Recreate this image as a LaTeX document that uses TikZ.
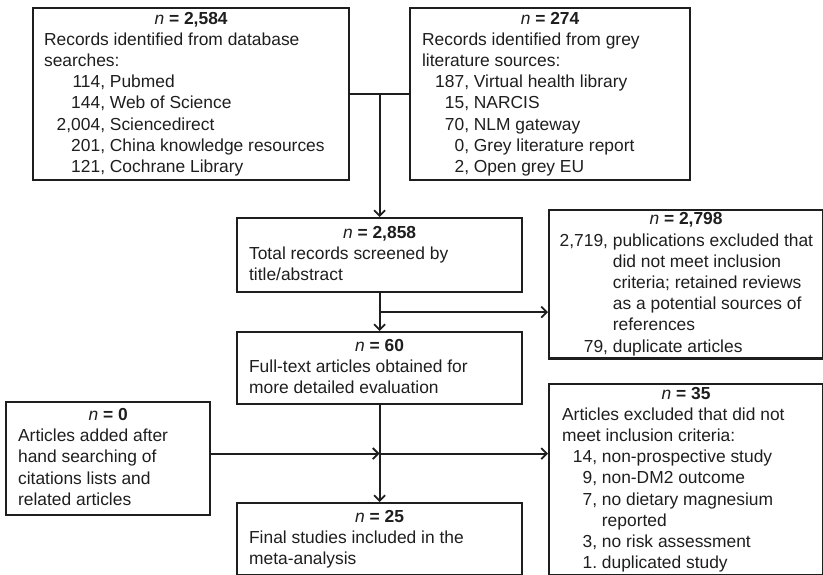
\documentclass[tikz,border=0pt]{standalone}
\usepackage{fontspec}
\setmainfont{Liberation Sans}
\usetikzlibrary{arrows.meta,calc}
\definecolor{ink}{HTML}{1E1E1E}
\newcommand{\hdr}[3]{\makebox[#1]{\textit{n} \textbf{= #2}}}
\newcommand{\itm}[3]{\makebox[#1][r]{#2}\ #3}
\begin{document}
\begin{tikzpicture}[x=1pt,y=-1pt,
  box/.style={draw=ink,line width=2.2pt,rectangle,anchor=north west,inner ysep=0pt,
    text=ink,font=\fontsize{17.4}{21.2}\selectfont},
  conn/.style={draw=ink,line width=1.8pt},
  arr/.style={conn,-{Straight Barb[length=5.5pt,width=11pt]}}]
\useasboundingbox (0,0) rectangle (823,575);
% box 1
\node[box,inner xsep=11pt,minimum width=316pt,minimum height=172pt] (b1) at (32,7)
 {\begin{tabular}{@{}l@{}}\hdr{294pt}{2,584}{}\\
 Records identified from database\\
 searches:\\
 \itm{61pt}{114,}{Pubmed}\\
 \itm{61pt}{144,}{Web of Science}\\
 \itm{61pt}{2,004,}{Sciencedirect}\\
 \itm{61pt}{201,}{China knowledge resources}\\
 \itm{61pt}{121,}{Cochrane Library}\end{tabular}};
% box 2
\node[box,inner xsep=12pt,minimum width=280pt,minimum height=172pt] (b2) at (409,7)
 {\begin{tabular}{@{}l@{}}\hdr{256pt}{274}{}\\
 Records identified from grey\\
 literature sources:\\
 \itm{47pt}{187,}{Virtual health library}\\
 \itm{47pt}{15,}{NARCIS}\\
 \itm{47pt}{70,}{NLM gateway}\\
 \itm{47pt}{0,}{Grey literature report}\\
 \itm{47pt}{2,}{Open grey EU}\end{tabular}};
% box 3
\node[box,inner xsep=12pt,minimum width=285pt,minimum height=74pt] (b3) at (236,217)
 {\begin{tabular}{@{}l@{}}\hdr{261pt}{2,858}{}\\
 Total records screened by\\
 title/abstract\end{tabular}};
% box 4
\node[box,inner xsep=9pt,minimum width=274pt,minimum height=147pt] (b4) at (548,209)
 {\begin{tabular}{@{}l@{}}\hdr{254pt}{2,798}{}\\
 \itm{49pt}{2,719,}{publications excluded that}\\
 \itm{49pt}{}{did not meet inclusion}\\
 \itm{49pt}{}{criteria; retained reviews}\\
 \itm{49pt}{}{as a potential sources of}\\
 \itm{49pt}{}{references}\\
 \itm{49pt}{79,}{duplicate articles}\end{tabular}};
% box 5
\node[box,inner xsep=12pt,minimum width=285pt,minimum height=72pt] (b5) at (236,331)
 {\begin{tabular}{@{}l@{}}\hdr{261pt}{60}{}\\
 Full-text articles obtained for\\
 more detailed evaluation\end{tabular}};
% box 6
\node[box,inner xsep=12pt,minimum width=204pt,minimum height=113pt] (b6) at (5,401)
 {\begin{tabular}{@{}l@{}}\hdr{180pt}{0}{}\\
 Articles added after\\
 hand searching of\\
 citations lists and\\
 related articles\end{tabular}};
% box 7
\node[box,inner xsep=13pt,minimum width=274pt,minimum height=191pt] (b7) at (548,383)
 {\begin{tabular}{@{}l@{}}\hdr{248pt}{35}{}\\
 Articles excluded that did not\\
 meet inclusion criteria:\\
 \itm{35pt}{14,}{non-prospective study}\\
 \itm{35pt}{9,}{non-DM2 outcome}\\
 \itm{35pt}{7,}{no dietary magnesium}\\
 \itm{35pt}{}{reported}\\
 \itm{35pt}{3,}{no risk assessment}\\
 \itm{35pt}{1.}{duplicated study}\end{tabular}};
% box 8
\node[box,inner xsep=12pt,minimum width=285pt,minimum height=72pt] (b8) at (236,502)
 {\begin{tabular}{@{}l@{}}\hdr{261pt}{25}{}\\
 Final studies included in the\\
 meta-analysis\end{tabular}};
% connectors
\coordinate (j1) at (b1.east -| b3.north);
\coordinate (j2) at ($(b3.south)!0.5!(b5.north)$);
\coordinate (j3) at ($(b5.south)!0.5!(b8.north)$);
\draw[conn] (b1.east) -- (b2.west);
\draw[arr] (j1) -- (b3.north);
\draw[arr] (b3.south) -- (b5.north);
\draw[arr] (j2) -- (j2 -| b4.west);
\draw[arr] (b5.south) -- (b8.north);
\draw[arr] (b6.east |- j3) -- (j3);
\draw[arr] (j3) -- (j3 -| b7.west);
\end{tikzpicture}
\end{document}
